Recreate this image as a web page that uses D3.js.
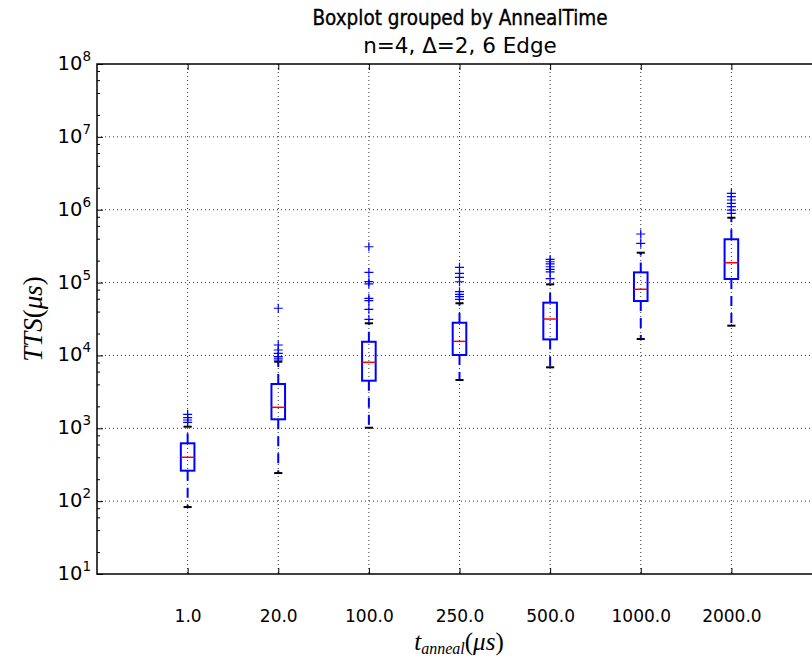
<!DOCTYPE html>
<html>
<head>
<meta charset="utf-8">
<script src="https://cdn.jsdelivr.net/npm/d3@7"></script>
<style>
  html, body { margin: 0; padding: 0; background: #fff; }
  svg { display: block; }
</style>
</head>
<body>
<svg id="chart" width="812" height="660"></svg>
<script>
// ---------------- DATA ----------------
const categories = ["1.0", "20.0", "100.0", "250.0", "500.0", "1000.0", "2000.0"];
const whiskerLow  = [83,    243,   1018,  4600,   6870,   16800,  25600];
const q1          = [262,   1328,  4500,  10140,  16600,  55800,  112000];
const medians     = [400,   1941,  8050,  15600,  31600,  80900,  187000];
const q3          = [622,   4055,  15400, 28100,  53000,  138000, 393000];
const whiskerHigh = [1052,  8200,  27600, 52000,  94600,  257000, 776000];
const fliers = [
  [1208, 1300, 1397, 1556],
  [8660, 9140, 9600, 10700, 11880, 13900, 44400],
  [31300, 42900, 56400, 60800, 96000, 103000, 138000, 310000],
  [58900, 64000, 69000, 75000, 102700, 118000, 134000, 162000],
  [113000, 140000, 152000, 165000, 180000, 193000, 208000],
  [346000, 464000],
  [893000, 990000, 1100000, 1225000, 1360000, 1510000, 1680000]
];
const yTickExponents = [1, 2, 3, 4, 5, 6, 7, 8];
const minorSubs = [2, 4, 6, 8];
const titleText = "Boxplot grouped by AnnealTime";
const subtitleText = "n=4, \u0394=2, 6 Edge";

// ---------------- LAYOUT ----------------
const svg = d3.select("#chart");
const L = 97, R = 822, T = 64, B = 574;
const x = d3.scaleLinear().domain([0, categories.length + 1]).range([L, R]);
const y = d3.scaleLog().domain([10, 1e8]).range([B, T]);
const band = x(1) - x(0);
const boxW = band * 0.15;
const capW = boxW * 0.6;

// grid
const grid = svg.append("g");
grid.selectAll("line.gx").data(categories).enter().append("line")
  .attr("x1", (d, i) => x(i + 1)).attr("x2", (d, i) => x(i + 1))
  .attr("y1", T).attr("y2", B)
  .attr("stroke", "#333").attr("stroke-width", 1).attr("stroke-dasharray", "1,3");
grid.selectAll("line.gy").data(yTickExponents.slice(1, -1)).enter().append("line")
  .attr("x1", L).attr("x2", R)
  .attr("y1", d => y(Math.pow(10, d))).attr("y2", d => y(Math.pow(10, d)))
  .attr("stroke", "#333").attr("stroke-width", 1).attr("stroke-dasharray", "1,3");

// boxes
const g = svg.append("g");
categories.forEach((c, i) => {
  const cx = x(i + 1);
  const blue = "#0000ff";
  g.append("line").attr("x1", cx).attr("x2", cx)
    .attr("y1", y(q1[i])).attr("y2", y(whiskerLow[i]))
    .attr("stroke", blue).attr("stroke-width", 2).attr("stroke-dasharray", "10,7");
  g.append("line").attr("x1", cx).attr("x2", cx)
    .attr("y1", y(q3[i])).attr("y2", y(whiskerHigh[i]))
    .attr("stroke", blue).attr("stroke-width", 2).attr("stroke-dasharray", "10,7");
  g.append("rect").attr("x", cx - boxW / 2).attr("width", boxW)
    .attr("y", y(q3[i])).attr("height", y(q1[i]) - y(q3[i]))
    .attr("fill", "none").attr("stroke", blue).attr("stroke-width", 2);
  g.append("line").attr("x1", cx - boxW / 2).attr("x2", cx + boxW / 2)
    .attr("y1", y(medians[i])).attr("y2", y(medians[i]))
    .attr("stroke", "#ff0000").attr("stroke-width", 1.5);
  fliers[i].forEach(v => {
    const fy = y(v);
    g.append("path")
      .attr("d", `M${cx - 4.5},${fy}H${cx + 4.5}M${cx},${fy - 4.5}V${fy + 4.5}`)
      .attr("stroke", blue).attr("stroke-width", 1.2).attr("fill", "none");
  });
  [whiskerLow[i], whiskerHigh[i]].forEach(v => {
    g.append("line").attr("x1", cx - capW / 2).attr("x2", cx + capW / 2)
      .attr("y1", y(v)).attr("y2", y(v))
      .attr("stroke", "#000").attr("stroke-width", 2);
  });
});

// axes (ticks inside)
const majorVals = yTickExponents.map(e => Math.pow(10, e));
const minorVals = [];
yTickExponents.slice(0, -1).forEach(e => minorSubs.forEach(s => minorVals.push(s * Math.pow(10, e))));

const styleAxis = sel => {
  sel.select(".domain").remove();
  sel.selectAll(".tick line").attr("stroke", "#000").attr("stroke-width", 1);
};
svg.append("g").attr("transform", `translate(${L},0)`)
  .call(d3.axisLeft(y).tickValues(majorVals).tickSize(-6).tickFormat(""))
  .call(styleAxis);
svg.append("g").attr("transform", `translate(${L},0)`)
  .call(d3.axisLeft(y).tickValues(minorVals).tickSize(-3).tickFormat(""))
  .call(styleAxis);
svg.append("g").attr("transform", `translate(${R},0)`)
  .call(d3.axisRight(y).tickValues(majorVals).tickSize(-6).tickFormat(""))
  .call(styleAxis);
svg.append("g").attr("transform", `translate(0,${T})`)
  .call(d3.axisTop(x).tickValues(d3.range(1, categories.length + 1)).tickSize(-6).tickFormat(""))
  .call(styleAxis);
const xb = svg.append("g").attr("transform", `translate(0,${B})`)
  .call(d3.axisBottom(x).tickValues(d3.range(1, categories.length + 1)).tickSize(-6)
    .tickPadding(36).tickFormat(d => categories[d - 1]))
  .call(styleAxis);
xb.selectAll(".tick text")
  .attr("font-family", "DejaVu Sans").attr("font-size", 17).attr("fill", "#000");

// y tick labels with superscripts
const yl = svg.append("g");
yTickExponents.forEach(e => {
  const t = yl.append("text")
    .attr("x", L - 6).attr("y", y(Math.pow(10, e)) + 6)
    .attr("text-anchor", "end")
    .attr("font-family", "DejaVu Sans").attr("font-size", 19.5).attr("fill", "#000");
  t.append("tspan").text("10");
  t.append("tspan").attr("dy", -9).attr("font-size", 13.5).text(e);
});

// spines
svg.append("rect").attr("x", L).attr("y", T).attr("width", R - L).attr("height", B - T)
  .attr("fill", "none").attr("stroke", "#000").attr("stroke-width", 1.5);

// titles
svg.append("text").attr("x", 460).attr("y", 25)
  .attr("text-anchor", "middle").attr("font-family", "DejaVu Sans Condensed, DejaVu Sans")
  .attr("font-size", 20.5).attr("fill", "#000")
  .attr("stroke", "#000").attr("stroke-width", 0.35).text(titleText);
svg.append("text").attr("x", 460).attr("y", 53)
  .attr("text-anchor", "middle").attr("font-family", "DejaVu Sans")
  .attr("font-size", 21.5).attr("fill", "#000").text(subtitleText);

// axis labels (math style)
const ylab = svg.append("text")
  .attr("transform", `translate(42,${(T + B) / 2}) rotate(-90)`)
  .attr("text-anchor", "middle").attr("font-family", "Liberation Serif, DejaVu Serif")
  .attr("font-size", 27).attr("fill", "#000");
ylab.append("tspan").attr("font-style", "italic").text("TTS");
ylab.append("tspan").text("(");
ylab.append("tspan").attr("font-style", "italic").text("\u03bcs");
ylab.append("tspan").text(")");

const xlab = svg.append("text")
  .attr("x", 459).attr("y", 650)
  .attr("text-anchor", "middle").attr("font-family", "Liberation Serif, DejaVu Serif")
  .attr("font-size", 25).attr("fill", "#000");
xlab.append("tspan").attr("font-style", "italic").text("t");
xlab.append("tspan").attr("font-style", "italic").attr("font-size", 16).attr("dy", 4).text("anneal");
xlab.append("tspan").attr("dy", -4).text("(");
xlab.append("tspan").attr("font-style", "italic").text("\u03bcs");
xlab.append("tspan").text(")");
</script>
</body>
</html>
